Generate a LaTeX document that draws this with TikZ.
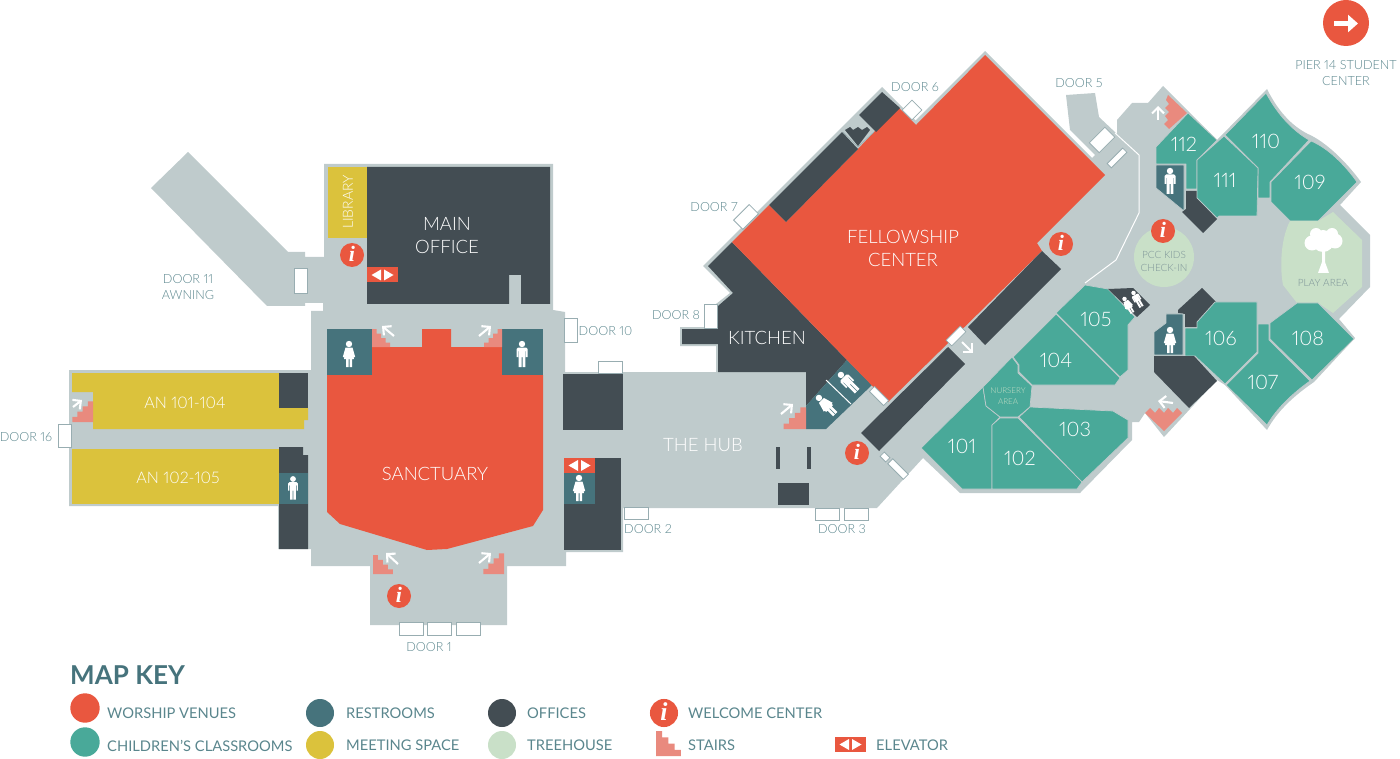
\documentclass[tikz,border=0pt]{standalone}
\usepackage{fontspec}
\setmainfont{Lato}
\newfontfamily\lightfont[Numbers=Proportional]{Lato Light}
\newfontfamily\infofont{Liberation Serif}
\usetikzlibrary{arrows.meta}

\definecolor{floorc}{HTML}{BFCBCC}
\definecolor{redc}{HTML}{E9573F}
\definecolor{classc}{HTML}{49A999}
\definecolor{restc}{HTML}{46737C}
\definecolor{officec}{HTML}{434D53}
\definecolor{yellowc}{HTML}{DBC23C}
\definecolor{treec}{HTML}{C9E0C8}
\definecolor{stairc}{HTML}{E98A7E}
\definecolor{labelc}{HTML}{5A868D}
\definecolor{doorc}{HTML}{98ADB1}
\definecolor{softc}{HTML}{7C9397}

\tikzset{
    room/.style={fill=#1, draw=floorc, line width=0.7pt, line join=round},
    doorbox/.style={draw=doorc, fill=white, line width=0.8pt, inner sep=0pt},
    doorlabel/.style={text=labelc, font=\lightfont\fontsize{12.6}{16}\selectfont, align=center, inner sep=0pt, yshift=-1pt},
    keylabel/.style={text=labelc, font=\fontsize{14.7}{16}\selectfont, anchor=west, inner sep=0pt, yshift=-0.5pt},
    roomlabel/.style={text=white, font=\lightfont\fontsize{18.5}{23}\selectfont, align=center, inner sep=0pt},
    numlabel/.style={text=white, font=\lightfont\fontsize{20}{23}\selectfont, inner sep=0pt},
    softlabel/.style={text=softc, font=\lightfont\fontsize{10}{13}\selectfont, align=center, inner sep=0pt, yshift=-1pt},
    whitearrow/.style={white, line width=2.1pt, -{Straight Barb[length=6pt,width=12pt]}},
    infomark/.pic={
        \fill[redc] (0,0) circle (12);
        \node[text=white, font=\infofont\bfseries\itshape\fontsize{22}{22}\selectfont, inner sep=0pt] (-glyph) at (0,-1) {i};
    },
    stairicon/.pic={
        \fill[stairc] (0,0) -- (18,0) -- (18,-4.5) -- (13.5,-4.5) -- (13.5,-9) -- (9,-9) -- (9,-13.5) -- (4.5,-13.5) -- (4.5,-18) -- (0,-18) -- cycle;
    },
    liftmark/.pic={
        \fill[redc] (-15.5,-7.5) rectangle (15.5,7.5);
        \fill[white] (-1.5,-5.5) -- (-1.5,5.5) -- (-11,0) -- cycle;
        \fill[white] (1.5,-5.5) -- (1.5,5.5) -- (11,0) -- cycle;
    },
    womanicon/.pic={
        \fill[white] (0,-10) circle (3.2);
        \fill[white] (-3.5,-6.5) -- (3.5,-6.5) -- (6.2,3) -- (4.6,3.4) -- (3.6,-1.5) -- (5,5) -- (3,5) -- (3,13) -- (0.5,13) -- (0.5,5) -- (-0.5,5) -- (-0.5,13) -- (-3,13) -- (-3,5) -- (-5,5) -- (-3.6,-1.5) -- (-4.6,3.4) -- (-6.2,3) -- cycle;
    },
    manicon/.pic={
        \fill[white] (0,-10) circle (3.2);
        \fill[white] (-4,-6.5) -- (4,-6.5) -- (5.5,-5) -- (5.5,3) -- (3.9,3) -- (3.9,-3) -- (3.3,-3) -- (3.3,13) -- (0.5,13) -- (0.5,3) -- (-0.5,3) -- (-0.5,13) -- (-3.3,13) -- (-3.3,-3) -- (-3.9,-3) -- (-3.9,3) -- (-5.5,3) -- (-5.5,-5) -- cycle;
    }
}

\begin{document}
\begin{tikzpicture}[x=1pt, y=-1pt]
    \useasboundingbox (0,0) rectangle (1400,759);

    % Floor
    \fill[floorc] (188,152) -- (288,252) -- (305,252) -- (305,257) -- (324,257) -- (324,164) -- (553,164) -- (553,310) -- (565,312) -- (565,372) -- (716,372) -- (716,346) -- (680,346) -- (680,327) -- (716,327) -- (716,304) -- (730,293) -- (703,266) -- (882,87) -- (915.5,120.5) -- (985,51) -- (1092,158) -- (1095,155) -- (1070,130) -- (1066,95) -- (1095,93) -- (1099,117) -- (1117,134) -- (1117,120) -- (1132,103) -- (1148,103) -- (1163,86) -- (1217,140) -- (1267,89) .. controls (1280,115) and (1295,128) .. (1310,135) .. controls (1325,142) and (1345,160) .. (1361,182) -- (1340,205) -- (1370,235) -- (1370,287) -- (1339,319) -- (1355,338) -- (1314,382) .. controls (1295,395) and (1278,410) .. (1267,430) -- (1225,385) -- (1217,380) -- (1164,437) -- (1145,413) -- (1139,422) -- (1132,422) -- (1132,440) -- (1080,493) -- (960,493) -- (923,458) -- (877,508) -- (623,508) -- (623,552) -- (566,552) -- (566,566) -- (507,566) -- (507,625) -- (370,625) -- (370,566) -- (311,566) -- (311,549) -- (278,549) -- (278,506) -- (69,506) -- (69,370) -- (311,370) -- (311,311) -- (323,311) -- (323,303) -- (305,303) -- (305,306) -- (267,306) -- (151,188) -- cycle;

    % West wing
    \fill[yellowc] (328,167) rectangle (367,238);
    \fill[officec] (367,167) -- (550,167) -- (550,304) -- (521,304) -- (521,275) -- (509,275) -- (509,304) -- (367,304) -- cycle;
    \fill[yellowc] (72,373) -- (279,373) -- (279,408) -- (308,408) -- (308,420) -- (304,420) -- (304,429) -- (93,429) -- (93,392) -- (72,392) -- cycle;
    \fill[officec] (279,373) rectangle (308,408);
    \fill[yellowc] (72,449) rectangle (279,504);
    \fill[officec] (279,447) -- (303,447) -- (303,455) -- (308,455) -- (308,549) -- (279,549) -- cycle;
    \fill[restc] (279,473) rectangle (308,504);

    % Sanctuary
    \fill[redc] (327,375) -- (372,375) -- (372,347) -- (422,347) -- (422,329) -- (451,329) -- (451,347) -- (502,347) -- (502,375) -- (543,375) -- (543,510) -- (533,526) -- (447,549) -- (427,550) -- (340,524) -- (327,512) -- cycle;
    \fill[restc] (327,329) rectangle (372,375);
    \fill[restc] (502,329) rectangle (543,375);

    % The hub
    \fill[officec] (563,374) rectangle (623,430);
    \fill[officec] (564,458) rectangle (621,550);
    \fill[restc] (564,473) rectangle (595,504);
    \fill[officec] (776,447) rectangle (780,469);
    \fill[officec] (807,447) rectangle (811,469);
    \fill[officec] (778,483) rectangle (809,505);

    % Fellowship center and kitchen
    \fill[officec] (732,242) -- (708,266) -- (733,293) -- (718,306) -- (718,329) -- (682,329) -- (682,344) -- (718,344) -- (718,372) -- (806,372) -- (806,406) -- (847,360) -- cycle;
    \fill[restc] (806,406) -- (847,360) -- (872,385) -- (826,429) -- (806,429) -- cycle;
    \draw[white, line width=1pt] (826,380) -- (851,404);
    \fill[redc] (985,55) -- (1105,175) -- (1037,243) -- (1042,251) -- (888,402) -- (732,242) -- (769,205) -- (786,222) -- (858,149) -- (874,132) -- (899,108) -- (916,125) -- cycle;
    \fill[officec] (769,205) -- (842,132) -- (858,149) -- (786,222) -- cycle;
    \fill[officec] (882,92) -- (900,108) -- (876,132) -- (859,115) -- cycle;
    \fill[officec] (845,130) -- (850,127) -- (853,130) -- (858,127) -- (862,130) -- (867,127) -- (870,130) -- (858,146) -- cycle;
    \draw[doorc, line width=0.6pt] (843,132) -- (858,147) -- (874,132);
    \fill[officec] (1042,251) -- (1061,269) -- (985,345) -- (968,327) -- cycle;
    \fill[officec] (948,347) -- (965,364) -- (879,451) -- (861,433) -- cycle;
    \draw[white, line width=1pt] (1115,133) -- (1139,155) -- (1139,213) -- (1116,260) -- (1085,283);

    % Classrooms, south
    \draw[room=classc] (921,448) -- (983,387) -- (986,406) -- (1000,417) -- (992,425) -- (992,489) -- (962,489) -- cycle;
    \draw[room=classc] (983,387) -- (1012,357) -- (1018,365) -- (1018,373) -- (1032,386) -- (1030,407) -- (1018,417) -- (1000,417) -- (986,406) -- cycle;
    \draw[room=classc] (992,425) -- (1000,418) -- (1018,418) -- (1082,482) -- (1077,489) -- (992,489) -- cycle;
    \draw[room=classc] (1019,417) -- (1030,407) -- (1113,411) -- (1128,420) -- (1128,438) -- (1082,482) -- cycle;
    \draw[room=classc] (1056,314) -- (1120,378) -- (1115,385) -- (1032,385) -- (1019,372) -- (1019,365) -- (1013,357) -- cycle;
    \draw[room=classc] (1056,313) -- (1085,285) -- (1108,289) -- (1135,317) -- (1128,325) -- (1128,370) -- (1120,377) -- cycle;
    \fill[officec] (1108,289) -- (1133,288) -- (1150,305) -- (1137,317) -- cycle;

    % Classrooms, north
    \draw[room=classc] (1188,113) -- (1217,140) -- (1197,160) -- (1197,189) -- (1186,189) -- (1186,164) -- (1156,164) -- (1156,147) -- cycle;
    \draw[room=restc] (1156,165) -- (1184,165) -- (1184,211) -- (1156,188) -- cycle;
    \fill[officec] (1186,191) -- (1197,191) -- (1197,198) -- (1217,219) -- (1203,233) -- (1182,212) -- (1186,209) -- cycle;
    \draw[room=classc] (1266,93) .. controls (1278,115) and (1292,130) .. (1309,140) -- (1270,182) -- (1270,198) -- (1258,198) -- (1258,168) -- (1225,135) -- cycle;
    \draw[room=classc] (1224,136) -- (1258,168) -- (1257,216) -- (1219,216) -- (1217,218) -- (1197,198) -- (1197,160) -- cycle;
    \draw[room=classc] (1311,141) .. controls (1328,148) and (1345,165) .. (1357,182) -- (1318,221) -- (1290,221) -- (1271,202) -- (1271,182) -- cycle;
    \fill[stairc] (1168,95) -- (1187,113) -- (1169,129) -- (1164,124) -- (1168,120) -- (1165,116) -- (1169,112) -- (1165,108) -- (1169,104) -- (1166,100) -- cycle;

    % Treehouse
    \fill[treec] (1164,257) circle (30);
    \fill[treec] (1333,212) -- (1362,240) -- (1362,287) -- (1333,313) -- (1318,303) -- (1297,303) -- (1283,285) .. controls (1280,270) and (1280,240) .. (1290,221) -- (1318,221) -- cycle;
    \fill[white] (1323,241) circle (11) (1312,243) circle (7.5) (1335,241) circle (7.5) (1316,234) circle (6) (1332,234) circle (6);
    \fill[white] (1322,248) -- (1325,248) -- (1325,262) -- (1329,273) -- (1318,273) -- (1322,262) -- cycle;

    % Classrooms, east
    \fill[officec] (1202,288) -- (1216,302) -- (1197,322) -- (1197,327) -- (1185,327) -- (1185,314) -- (1178,313) -- (1178,310) -- cycle;
    \draw[room=classc] (1215,302) -- (1257,302) -- (1257,352) -- (1225,384) -- (1195,356) -- (1185,356) -- (1185,328) -- (1197,328) -- (1197,322) -- cycle;
    \draw[room=classc] (1258,324) -- (1269,324) -- (1269,340) -- (1310,381) .. controls (1293,393) and (1277,408) .. (1267,425) -- (1226,385) -- (1258,353) -- cycle;
    \draw[room=classc] (1270,323) -- (1297,303) -- (1318,303) -- (1354,339) -- (1312,380) -- (1270,339) -- cycle;
    \draw[room=restc] (1166,314) -- (1183,314) -- (1183,355) -- (1154,355) -- (1154,332) -- (1166,323) -- cycle;
    \fill[officec] (1154,356) -- (1194,356) -- (1217,381) -- (1189,408) -- (1154,372) -- cycle;
    \fill[stairc] (1145,413) -- (1150,408) -- (1155,413) -- (1159,408) -- (1164,413) -- (1168,408) -- (1173,413) -- (1177,408) -- (1182,413) -- (1164,431) -- cycle;

    % Doors
    \foreach \x/\y/\w/\h/\r/\n in {300.5/280.5/13/25/0/eleven, 64.5/435.5/13/23/0/sixteen, 411/629/24/13/0/onea, 439/629/24/13/0/oneb, 468/629/24/13/0/onec, 570.5/330/13/24/0/ten, 610/367/24/12/0/hub, 636/513/24/12/0/two, 827.5/514/24/12/0/threea, 856/514/24/12/0/threeb, 710.5/316/13/24/0/eight, 746/217/22/13/45/seven, 912/110/14/14/45/six, 1102/140/22/14/45/five, 1117/158/22/6/45/fivea, 956/336/20/8/45/inner, 879/396/20/7/-45/rest, 885/457/8/6/-45/southa, 898/469/22/7/-45/southb}
        \node[doorbox, minimum width=\w pt, minimum height=\h pt, rotate=\r] (door\n) at (\x,\y) {};

    % Stairs
    \pic (stairA) at (372,347) {stairicon};
    \pic[xscale=-1] (stairB) at (502,347) {stairicon};
    \pic[xscale=1.1, yscale=1.05] (stairC) at (373,574) {stairicon};
    \pic[xscale=-1.15, yscale=1.15] (stairD) at (504,574) {stairicon};
    \pic[xscale=-1.25, yscale=1.2] (stairE) at (806,429) {stairicon};
    \pic[xscale=-1.15, yscale=1.15] (stairF) at (93,422) {stairicon};

    % Arrows
    \draw[whitearrow] (394,336) -- (382,326);
    \draw[whitearrow] (479,336) -- (491,326);
    \draw[whitearrow] (398,564) -- (386,553);
    \draw[whitearrow] (479,563) -- (491,553);
    \draw[whitearrow] (781,414) -- (793,404);
    \draw[whitearrow] (73,407) -- (82,400);
    \draw[whitearrow] (962,342) -- (973,353);
    \draw[whitearrow] (1158,120) -- (1158,106);
    \draw[whitearrow] (1173,403) -- (1158,401);

    % Elevators
    \pic (liftA) at (382.5,275) {liftmark};
    \pic (liftB) at (579.5,465.5) {liftmark};

    % Restroom figures
    \pic (womanA) at (349,354) {womanicon};
    \pic (manA) at (522,354) {manicon};
    \pic[scale=0.9] (manE) at (293,488) {manicon};
    \pic (womanC) at (579,488) {womanicon};
    \pic[rotate=45] (manB) at (848,382) {manicon};
    \pic[rotate=45] (womanD) at (826,405) {womanicon};
    \pic (manC) at (1170,181) {manicon};
    \pic (womanE) at (1170,340) {womanicon};
    \pic[scale=0.7, rotate=30] (manD) at (1137,299) {manicon};
    \pic[scale=0.7, rotate=30] (womanF) at (1128,305) {womanicon};

    % Welcome centers
    \pic (infoA) at (352,255) {infomark};
    \pic (infoB) at (399,596) {infomark};
    \pic (infoC) at (857,453) {infomark};
    \pic (infoD) at (1061,244) {infomark};
    \pic (infoE) at (1163,231) {infomark};

    % Room labels
    \node[roomlabel] (mainoffice) at (447,236) {MAIN\\OFFICE};
    \node[roomlabel, rotate=90, font=\lightfont\fontsize{14}{16}\selectfont] (library) at (348,202) {LIBRARY};
    \node[roomlabel, font=\lightfont\fontsize{16}{19}\selectfont] (an101) at (185,403) {AN 101-104};
    \node[roomlabel, font=\lightfont\fontsize{16}{19}\selectfont] (an102) at (178,478) {AN 102-105};
    \node[roomlabel] (sanctuary) at (435,474) {SANCTUARY};
    \node[roomlabel] (hub) at (703,445) {THE HUB};
    \node[roomlabel] (kitchen) at (767,338) {KITCHEN};
    \node[roomlabel] (fellowship) at (903,248) {FELLOWSHIP\\CENTER};
    \node[numlabel] (r101) at (962,446) {101};
    \node[numlabel] (r102) at (1020,458) {102};
    \node[numlabel] (r103) at (1075,429) {103};
    \node[numlabel] (r104) at (1056,360) {104};
    \node[numlabel] (r105) at (1096,319) {105};
    \node[numlabel] (r106) at (1221,338) {106};
    \node[numlabel] (r107) at (1263,382) {107};
    \node[numlabel] (r108) at (1308,338) {108};
    \node[numlabel] (r109) at (1310,182) {109};
    \node[numlabel] (r110) at (1266,141) {110};
    \node[numlabel] (r111) at (1225,180) {111};
    \node[numlabel] (r112) at (1184,144) {112};
    \node[text=treec, font=\lightfont\fontsize{8}{11}\selectfont, align=center, inner sep=0pt] (nursery) at (1008,396) {NURSERY\\AREA};
    \node[softlabel] (checkin) at (1164,260) {PCC KIDS\\CHECK-IN};
    \node[softlabel] (playarea) at (1323,282) {PLAY AREA};

    % Door labels
    \node[doorlabel] (label1) at (429,646) {DOOR 1};
    \node[doorlabel] (label2) at (648,528) {DOOR 2};
    \node[doorlabel] (label3) at (842,528) {DOOR 3};
    \node[doorlabel] (label5) at (1079,82) {DOOR 5};
    \node[doorlabel] (label6) at (915,86) {DOOR 6};
    \node[doorlabel] (label7) at (714,206) {DOOR 7};
    \node[doorlabel] (label8) at (676,314) {DOOR 8};
    \node[doorlabel] (label10) at (605.5,330) {DOOR 10};
    \node[doorlabel] (label11) at (188,286) {DOOR 11\\AWNING};
    \node[doorlabel] (label16) at (26,436) {DOOR 16};
    \node[doorlabel] (labelpier) at (1346,72) {PIER 14 STUDENT\\CENTER};

    % Student center
    \fill[redc] (1346,23) circle (23);
    \draw[white, line width=4.5pt, -{Triangle[length=10pt,width=17pt]}] (1334,23.5) -- (1358,23.5);

    % Map key
    \node[text=restc, font=\fontsize{26}{30}\selectfont\bfseries, anchor=west, inner sep=0pt] (mapkey) at (70,675) {MAP KEY};
    \fill[redc] (85,708) circle (14.7);
    \fill[classc] (85,742) circle (14.7);
    \fill[restc] (320,713) circle (14);
    \fill[yellowc] (320,745) circle (14);
    \fill[officec] (502,713) circle (14);
    \fill[treec] (502,745) circle (14);
    \pic[scale=1.17, transform shape] (infoKey) at (664,713) {infomark};
    \pic[scale=1.38] (stairKey) at (656,756) {stairicon};
    \pic (liftKey) at (850.5,744.5) {liftmark};
    \node[keylabel] (keyworship) at (107,713) {WORSHIP VENUES};
    \node[keylabel] (keyclass) at (107,745) {CHILDREN'S CLASSROOMS};
    \node[keylabel] (keyrest) at (346,713) {RESTROOMS};
    \node[keylabel] (keymeet) at (346,745) {MEETING SPACE};
    \node[keylabel] (keyoffice) at (527,713) {OFFICES};
    \node[keylabel] (keytree) at (527,745) {TREEHOUSE};
    \node[keylabel] (keywelcome) at (688,713) {WELCOME CENTER};
    \node[keylabel] (keystairs) at (688,745) {STAIRS};
    \node[keylabel] (keylift) at (876,745) {ELEVATOR};
\end{tikzpicture}
\end{document}
